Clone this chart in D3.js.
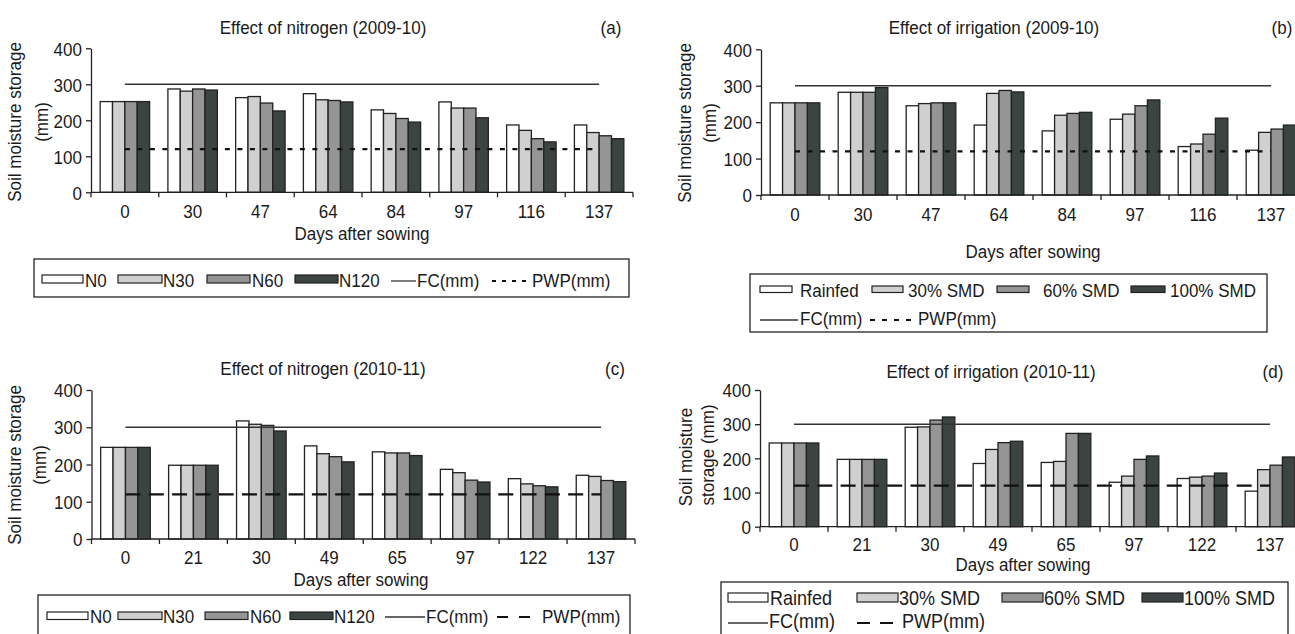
<!DOCTYPE html>
<html><head><meta charset="utf-8">
<script src="https://cdn.jsdelivr.net/npm/d3@7"></script>
<style>
body{margin:0;background:#fff}
svg{display:block}
text{font-family:"Liberation Sans",Arial,Helvetica,sans-serif;fill:#1a1a1a}
</style>
</head><body>
<svg id="chart" width="1295" height="634"></svg>
<script>
// ---------- DATA ----------
const daysA = ["0","30","47","64","84","97","116","137"];   // 2009-10
const daysC = ["0","21","30","49","65","97","122","137"];   // 2010-11
const nitrogenSeries = ["N0","N30","N60","N120"];
const irrigationSeries = ["Rainfed","30% SMD","60% SMD","100% SMD"];
const yTicks = [0,100,200,300,400];
const fcValue = 300;
const pwpValue = 120;
const fcLabel = "FC(mm)";
const pwpLabel = "PWP(mm)";

// (a) Effect of nitrogen (2009-10)
const aN0   = [252,287,263,274,229,251,187,187];
const aN30  = [252,281,266,257,219,234,172,166];
const aN60  = [252,287,248,255,205,234,149,157];
const aN120 = [252,284,226,251,195,207,140,149];
// (b) Effect of irrigation (2009-10)
const bRainfed = [253,282,245,192,176,208,133,123];
const bSMD30   = [253,282,251,279,219,222,140,172];
const bSMD60   = [253,282,253,287,224,245,167,181];
const bSMD100  = [253,295,253,283,227,261,211,192];
// (c) Effect of nitrogen (2010-11)
const cN0   = [246,198,317,250,234,187,162,171];
const cN30  = [246,198,308,229,231,178,148,168];
const cN60  = [246,198,305,221,231,158,143,157];
const cN120 = [246,198,290,207,224,153,140,154];
// (d) Effect of irrigation (2010-11)
const dRainfed = [245,197,291,185,188,130,141,104];
const dSMD30   = [245,197,292,226,191,148,145,167];
const dSMD60   = [245,197,312,246,273,197,148,180];
const dSMD100  = [245,197,321,250,273,207,157,204];

// ---------- DRAW ----------
const svg = d3.select("#chart");
const fills = ["#ffffff","#d0d0d0","#959595","#3b4343"];
const ink = "#222";
const FS = 17;

function panel(cfg){
  const g = svg.append("g");
  const x0 = d3.scaleBand().domain(cfg.days).range([cfg.xl, cfg.xr]).padding(0);
  const pad = x0.bandwidth()*0.135;
  const x1 = d3.scaleBand().domain(cfg.series).range([pad, x0.bandwidth()-pad]).padding(0);
  const y = d3.scaleLinear().domain([0,400]).range([cfg.yb, cfg.yt]);

  cfg.series.forEach((s,i)=>{
    g.append("g").selectAll("rect").data(cfg.values[i]).join("rect")
      .attr("x",(d,j)=>x0(cfg.days[j])+x1(s))
      .attr("y",d=>y(d))
      .attr("width",x1.bandwidth())
      .attr("height",d=>y(0)-y(d))
      .attr("fill",fills[i]).attr("stroke",ink).attr("stroke-width",1.3);
  });

  const xa = x0(cfg.days[0])+x0.bandwidth()/2;
  const xb = x0(cfg.days[cfg.days.length-1])+x0.bandwidth()/2;
  g.append("line").attr("x1",xa).attr("x2",xb).attr("y1",y(fcValue)).attr("y2",y(fcValue))
    .attr("stroke","#333").attr("stroke-width",1.5);
  g.append("line").attr("x1",xa).attr("x2",xb).attr("y1",y(pwpValue)).attr("y2",y(pwpValue))
    .attr("stroke","#111").attr("stroke-width",2.2).attr("stroke-dasharray",cfg.pwpDash);

  // y axis
  const ya = g.append("g").attr("transform",`translate(${cfg.xl},0)`)
    .call(d3.axisLeft(y).tickValues(yTicks).tickSize(5).tickPadding(4).tickSizeOuter(0));
  ya.select(".domain").attr("stroke",ink).attr("stroke-width",1.3);
  ya.selectAll(".tick line").attr("stroke",ink).attr("stroke-width",1.3);
  ya.selectAll(".tick text").attr("font-size",FS).attr("font-family",null).attr("dy","0.36em").style("fill","#1a1a1a");

  // x axis
  const xaG = g.append("g").attr("transform",`translate(0,${cfg.yb})`)
    .call(d3.axisBottom(x0).tickSize(0).tickSizeOuter(0));
  xaG.select(".domain").remove();
  xaG.selectAll(".tick text").attr("font-size",FS).attr("font-family",null)
    .attr("dy",0).attr("y",cfg.tickOff).style("fill","#1a1a1a");
  g.append("line").attr("x1",cfg.xl).attr("x2",cfg.xr).attr("y1",cfg.yb).attr("y2",cfg.yb)
    .attr("stroke",ink).attr("stroke-width",1.3);
  g.append("g").selectAll("line").data(d3.range(cfg.days.length+1)).join("line")
    .attr("x1",i=>cfg.xl+i*x0.step()).attr("x2",i=>cfg.xl+i*x0.step())
    .attr("y1",cfg.yb).attr("y2",cfg.yb+5).attr("stroke",ink).attr("stroke-width",1.3);

  // texts
  g.append("text").attr("x",cfg.titleX).attr("y",cfg.titleY).attr("text-anchor","middle")
    .attr("font-size",FS).text(cfg.title);
  g.append("text").attr("x",cfg.tagX).attr("y",cfg.titleY).attr("text-anchor","middle")
    .attr("font-size",FS).text(cfg.tag);
  g.append("text").attr("x",cfg.xlabX).attr("y",cfg.xlabY).attr("text-anchor","middle")
    .attr("font-size",FS).text("Days after sowing");
  cfg.ylab.forEach(l=>{
    g.append("text").attr("transform",`translate(${l.x},${l.y}) rotate(-90)`)
      .attr("text-anchor","middle").attr("font-size",FS).text(l.t);
  });
}

function legend(cfg){
  const g = svg.append("g");
  g.append("rect").attr("x",cfg.box[0]).attr("y",cfg.box[1]).attr("width",cfg.box[2]).attr("height",cfg.box[3])
    .attr("fill","none").attr("stroke",ink).attr("stroke-width",1.3);
  cfg.items.forEach(it=>{
    if(it.kind==="bar"){
      g.append("rect").attr("x",it.sx).attr("y",it.sy).attr("width",it.sw).attr("height",it.sh)
        .attr("fill",fills[it.idx]).attr("stroke",ink).attr("stroke-width",1.2);
    } else {
      g.append("line").attr("x1",it.sx).attr("x2",it.sx+it.sw).attr("y1",it.sy).attr("y2",it.sy)
        .attr("stroke",it.dash?"#111":"#333").attr("stroke-width",it.dash?2:1.3)
        .attr("stroke-dasharray",it.dash||null);
    }
    g.append("text").attr("x",it.tx).attr("y",it.ty).attr("font-size",cfg.fs).text(it.label);
  });
}

panel({days:daysA, series:nitrogenSeries, values:[aN0,aN30,aN60,aN120],
  xl:91, xr:633, yt:48.3, yb:192.3, tickOff:26, pwpDash:"5,7.5",
  title:"Effect of nitrogen (2009-10)", titleX:323, titleY:34, tag:"(a)", tagX:611,
  xlabX:362, xlabY:240,
  ylab:[{x:21,y:122,t:"Soil moisture storage"},{x:47.5,y:122,t:"(mm)"}]});

panel({days:daysA, series:irrigationSeries, values:[bRainfed,bSMD30,bSMD60,bSMD100],
  xl:761, xr:1305, yt:49.3, yb:195, tickOff:26, pwpDash:"5,7.5",
  title:"Effect of irrigation (2009-10)", titleX:994, titleY:34, tag:"(b)", tagX:1282,
  xlabX:1033, xlabY:258,
  ylab:[{x:691,y:123,t:"Soil moisture storage"},{x:716,y:123,t:"(mm)"}]});

panel({days:daysC, series:nitrogenSeries, values:[cN0,cN30,cN60,cN120],
  xl:91.5, xr:635, yt:390, yb:539, tickOff:25, pwpDash:"15,8.3",
  title:"Effect of nitrogen (2010-11)", titleX:323, titleY:375, tag:"(c)", tagX:615,
  xlabX:361, xlabY:586,
  ylab:[{x:20.5,y:465,t:"Soil moisture storage"},{x:45.5,y:465,t:"(mm)"}]});

panel({days:daysC, series:irrigationSeries, values:[dRainfed,dSMD30,dSMD60,dSMD100],
  xl:760, xr:1304, yt:390, yb:526.7, tickOff:24, pwpDash:"15,8.3",
  title:"Effect of irrigation (2010-11)", titleX:991, titleY:378, tag:"(d)", tagX:1273,
  xlabX:1023, xlabY:571,
  ylab:[{x:692,y:457,t:"Soil moisture"},{x:714,y:455,t:"storage (mm)"}]});

// legends
legend({box:[34,259,595,38], fs:17, items:[
  {kind:"bar",idx:0,label:nitrogenSeries[0],sx:42,sw:41,sy:275,sh:8,tx:85,ty:287},
  {kind:"bar",idx:1,label:nitrogenSeries[1],sx:118,sw:44,sy:275,sh:8,tx:163,ty:287},
  {kind:"bar",idx:2,label:nitrogenSeries[2],sx:207,sw:43,sy:275,sh:8,tx:252,ty:287},
  {kind:"bar",idx:3,label:nitrogenSeries[3],sx:295,sw:43,sy:275,sh:8,tx:339,ty:287},
  {kind:"line",label:fcLabel,sx:391,sw:25,sy:281,tx:417,ty:287},
  {kind:"line",label:pwpLabel,sx:492,sw:38,sy:281,dash:"4,6",tx:532,ty:287}]});

legend({box:[750,274,517,58], fs:17, items:[
  {kind:"bar",idx:0,label:irrigationSeries[0],sx:760,sw:32,sy:286,sh:6.5,tx:800,ty:297},
  {kind:"bar",idx:1,label:irrigationSeries[1],sx:872,sw:31,sy:286,sh:6.5,tx:908,ty:297},
  {kind:"bar",idx:2,label:irrigationSeries[2],sx:997,sw:32,sy:286,sh:6.5,tx:1043,ty:297},
  {kind:"bar",idx:3,label:irrigationSeries[3],sx:1131,sw:34,sy:286,sh:6.5,tx:1170,ty:297},
  {kind:"line",label:fcLabel,sx:760,sw:38,sy:320,tx:800,ty:325},
  {kind:"line",label:pwpLabel,sx:870,sw:47,sy:320,dash:"5,7",tx:918,ty:325}]});

legend({box:[38,595,592,60], fs:17, items:[
  {kind:"bar",idx:0,label:nitrogenSeries[0],sx:47,sw:41,sy:612,sh:7.5,tx:90,ty:623},
  {kind:"bar",idx:1,label:nitrogenSeries[1],sx:118,sw:44,sy:612,sh:7.5,tx:163,ty:623},
  {kind:"bar",idx:2,label:nitrogenSeries[2],sx:205,sw:43,sy:612,sh:7.5,tx:250,ty:623},
  {kind:"bar",idx:3,label:nitrogenSeries[3],sx:290,sw:43,sy:612,sh:7.5,tx:334,ty:623},
  {kind:"line",label:fcLabel,sx:385,sw:40,sy:617,tx:426,ty:623},
  {kind:"line",label:pwpLabel,sx:497,sw:33,sy:617,dash:"11,11",tx:542,ty:623}]});

legend({box:[721,582,567,70], fs:18, items:[
  {kind:"bar",idx:0,label:irrigationSeries[0],sx:728,sw:40,sy:593,sh:9,tx:770,ty:605},
  {kind:"bar",idx:1,label:irrigationSeries[1],sx:857,sw:41,sy:593,sh:9,tx:899,ty:605},
  {kind:"bar",idx:2,label:irrigationSeries[2],sx:1002,sw:41,sy:593,sh:9,tx:1044,ty:605},
  {kind:"bar",idx:3,label:irrigationSeries[3],sx:1142,sw:41,sy:593,sh:9,tx:1184,ty:605},
  {kind:"line",label:fcLabel,sx:728,sw:40,sy:623,tx:769,ty:628},
  {kind:"line",label:pwpLabel,sx:857,sw:36,sy:623,dash:"13,10",tx:902,ty:628}]});

// The original typeface is slightly condensed: taller glyphs at the same advance width.
svg.selectAll("text").each(function(){
  const fs = parseFloat(this.getAttribute("font-size")) || FS;
  const L = this.getComputedTextLength();
  this.setAttribute("font-size", (fs*1.1).toFixed(2));
  this.setAttribute("textLength", L.toFixed(2));
  this.setAttribute("lengthAdjust", "spacingAndGlyphs");
});
</script>
</body></html>
